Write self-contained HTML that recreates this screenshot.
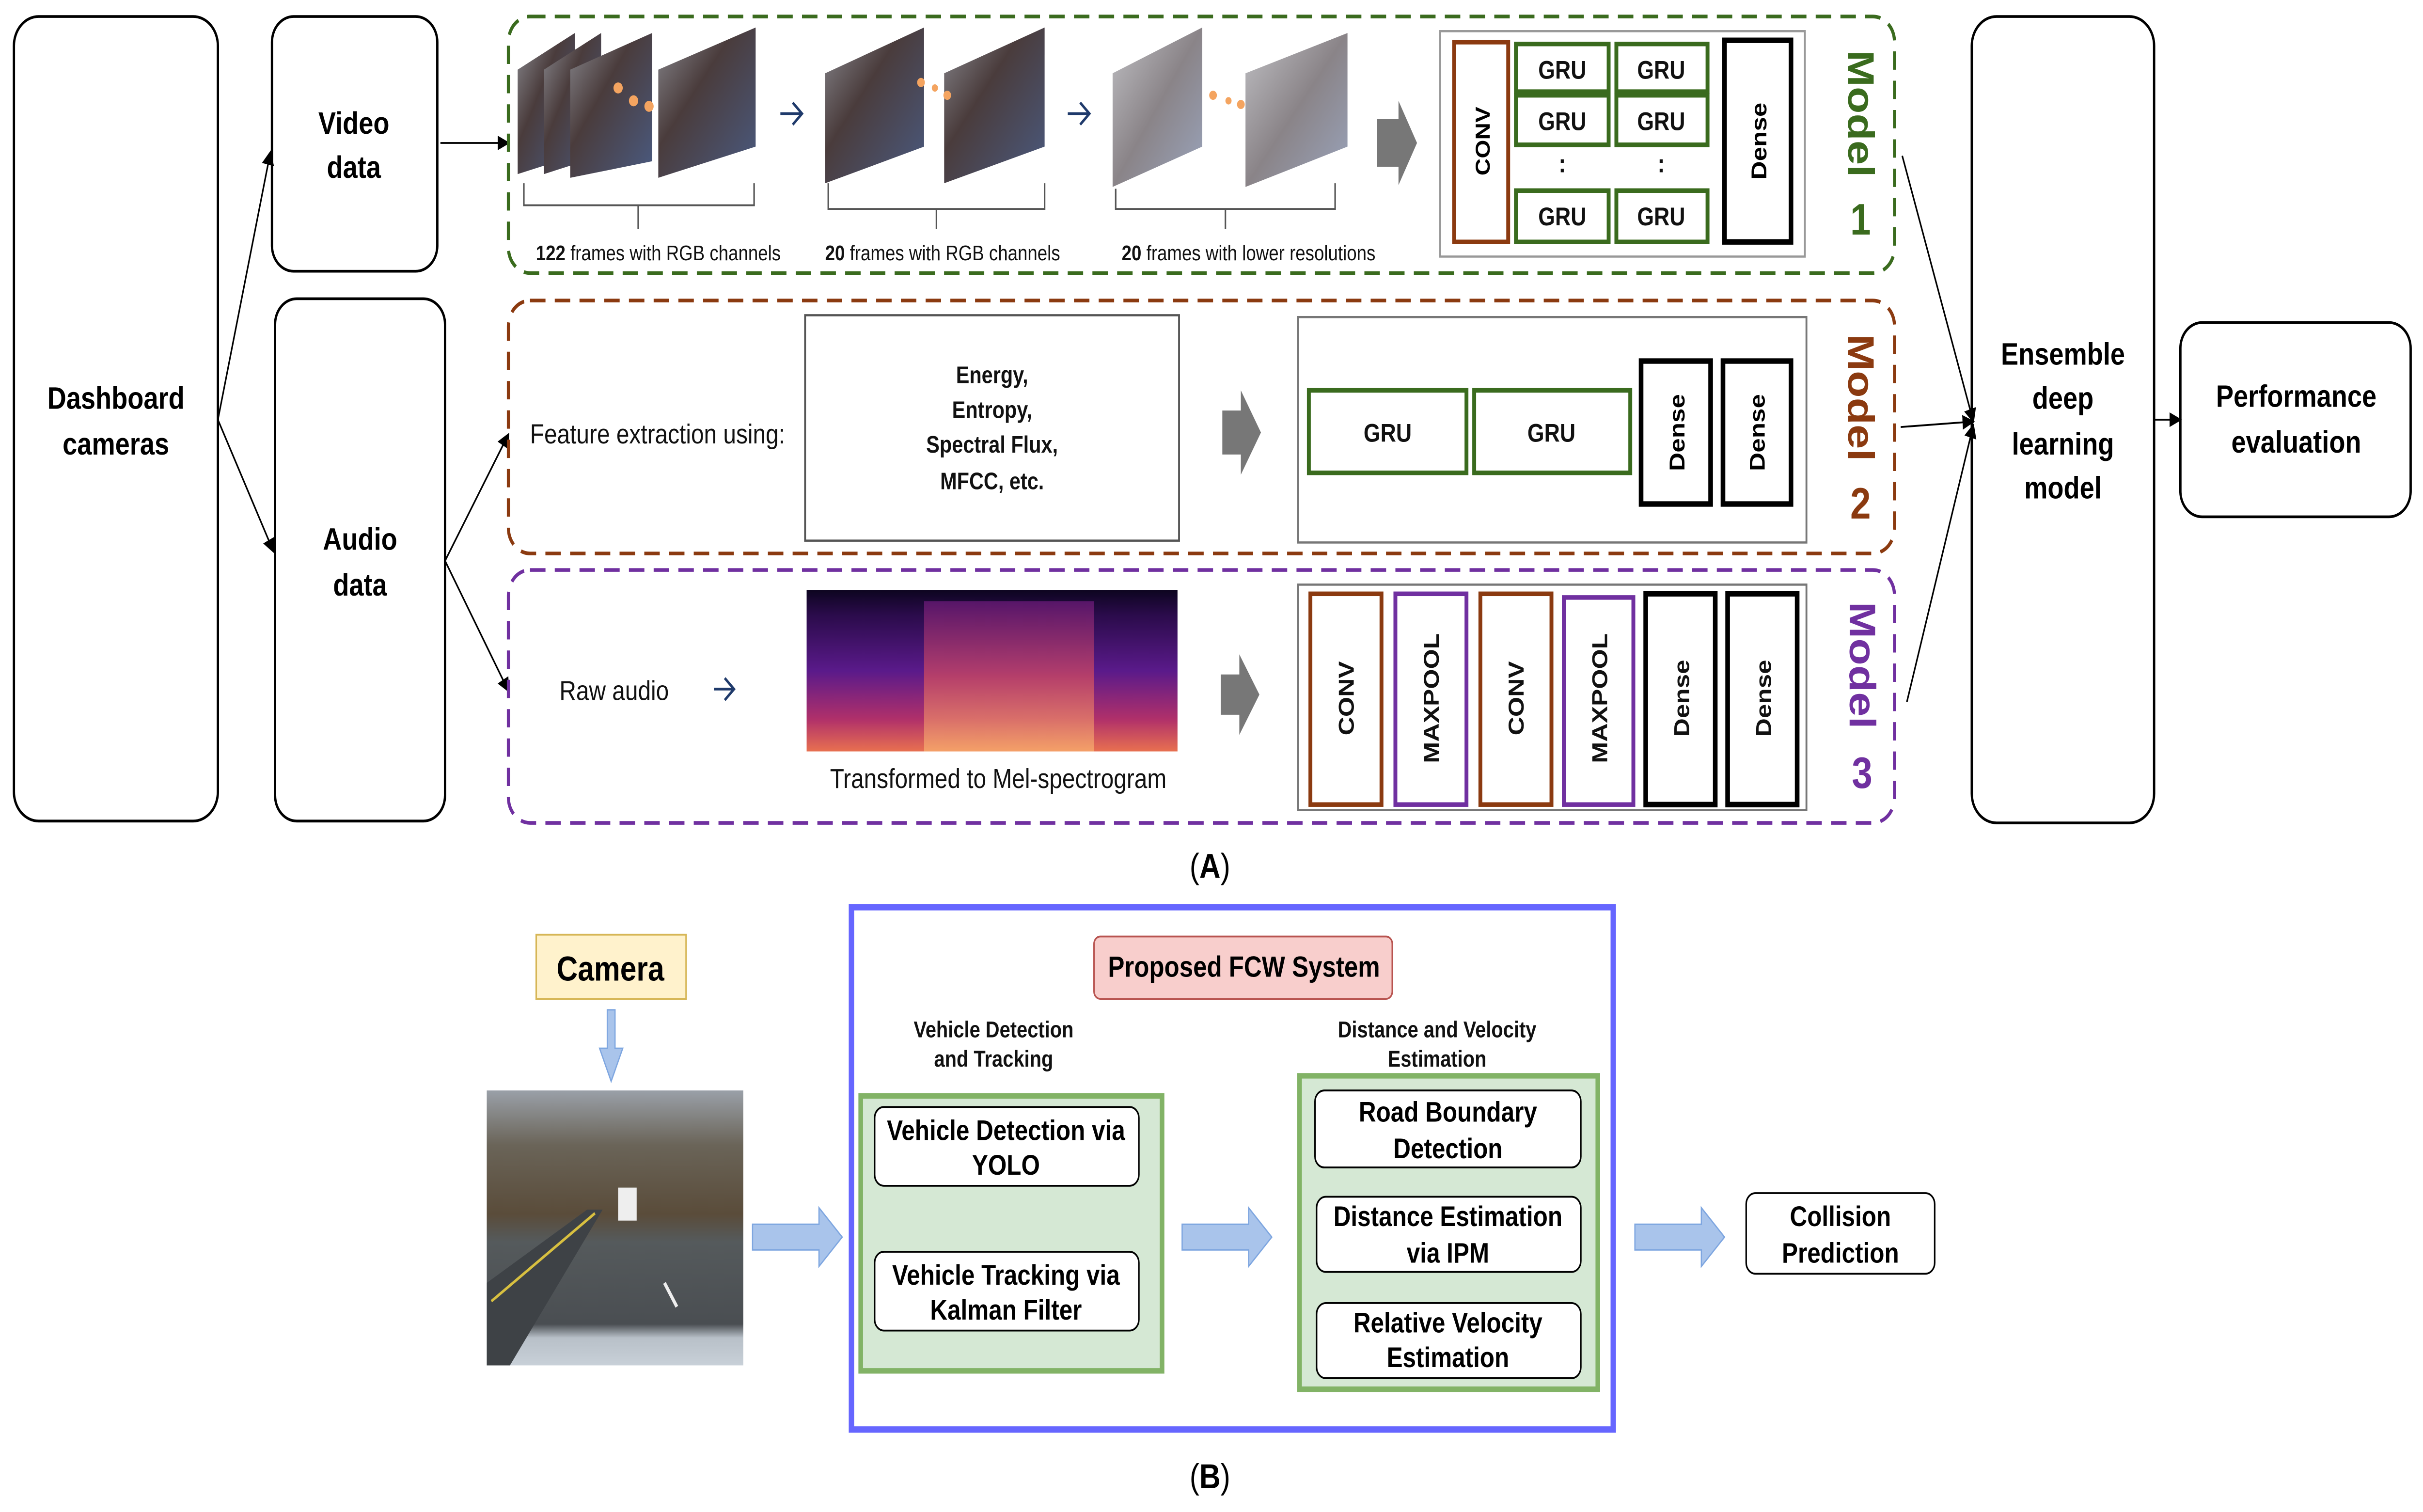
<!DOCTYPE html>
<html><head><meta charset="utf-8"><style>
html,body{margin:0;padding:0;background:#fff;width:100%;height:100%;overflow:hidden}
svg{display:block;position:fixed;left:0;top:0;width:100vw;height:100vh}
text{font-family:"Liberation Sans",sans-serif}
</style></head><body>
<svg viewBox="0 0 1568 825" preserveAspectRatio="none" xmlns="http://www.w3.org/2000/svg">
<defs>
<marker id="ah" markerWidth="8" markerHeight="8" refX="7" refY="4" orient="auto" markerUnits="userSpaceOnUse"><path d="M0,0 L8,4 L0,8 Z" fill="#000"/></marker>
<linearGradient id="spec" x1="0" y1="0" x2="0" y2="1"><stop offset="0" stop-color="#0d0520"/><stop offset="0.15" stop-color="#2a0b4a"/><stop offset="0.5" stop-color="#5a1a8a"/><stop offset="0.8" stop-color="#b0306a"/><stop offset="1" stop-color="#e87050"/></linearGradient>
<linearGradient id="band" x1="0" y1="0" x2="0" y2="1"><stop offset="0" stop-color="#6a1a7a"/><stop offset="0.5" stop-color="#d04a60"/><stop offset="1" stop-color="#f8b070"/></linearGradient>
<linearGradient id="road" x1="0" y1="0" x2="1" y2="1"><stop offset="0" stop-color="#8a8a90"/><stop offset="0.4" stop-color="#4a3c3c"/><stop offset="1" stop-color="#4a5a80"/></linearGradient>
<linearGradient id="road2" x1="0" y1="0" x2="1" y2="1"><stop offset="0" stop-color="#c0c0c4"/><stop offset="0.5" stop-color="#8a8488"/><stop offset="1" stop-color="#9aa4bc"/></linearGradient>
<linearGradient id="photo" x1="0" y1="0" x2="0" y2="1"><stop offset="0" stop-color="#9aa0a8"/><stop offset="0.2" stop-color="#6a6458"/><stop offset="0.45" stop-color="#5a4c3a"/><stop offset="0.55" stop-color="#555a5c"/><stop offset="0.85" stop-color="#4a4e52"/><stop offset="0.9" stop-color="#b8c0c8"/><stop offset="1" stop-color="#c8d0d8"/></linearGradient>
</defs>

<!-- Part A -->
<g fill="none" stroke="#000" stroke-width="1.5">
<rect x="9" y="9" width="132" height="439" rx="16"/>
<rect x="176" y="9" width="107" height="139" rx="14"/>
<rect x="178" y="163" width="110" height="285" rx="14"/>
<rect x="1276" y="9" width="118" height="440" rx="16"/>
<rect x="1411" y="176" width="149" height="106" rx="14"/>
</g>
<g font-weight="bold" font-size="17" text-anchor="middle" fill="#000">
<text x="75" y="223">Dashboard</text><text x="75" y="248">cameras</text>
<text x="229" y="73">Video</text><text x="229" y="97">data</text>
<text x="233" y="300">Audio</text><text x="233" y="325">data</text>
<text x="1335" y="199">Ensemble</text><text x="1335" y="223">deep</text><text x="1335" y="248">learning</text><text x="1335" y="272">model</text>
<text x="1486" y="222">Performance</text><text x="1486" y="247">evaluation</text>
</g>
<g stroke="#000" stroke-width="1" marker-end="url(#ah)" fill="none">
<line x1="141" y1="229" x2="175" y2="83"/>
<line x1="141" y1="229" x2="177" y2="301"/>
<line x1="285" y1="78" x2="329" y2="78"/>
<line x1="288" y1="306" x2="329" y2="237"/>
<line x1="288" y1="306" x2="329" y2="377"/>
<line x1="1231" y1="85" x2="1277" y2="230"/>
<line x1="1230" y1="233" x2="1277" y2="230"/>
<line x1="1234" y1="383" x2="1277" y2="232"/>
<line x1="1394" y1="229" x2="1411" y2="229"/>
</g>

<rect x="329" y="9" width="897" height="140" rx="14" fill="none" stroke="#3a6b1e" stroke-width="2" stroke-dasharray="10,6"/>
<rect x="329" y="164" width="897" height="138" rx="14" fill="none" stroke="#8b3a10" stroke-width="2" stroke-dasharray="10,6"/>
<rect x="329" y="311" width="897" height="138" rx="14" fill="none" stroke="#7030a0" stroke-width="2" stroke-dasharray="10,6"/>

<g>
<polygon points="335,95 335,38 372,18 372,85" fill="url(#road)"/>
<polygon points="352,95 352,38 389,18 389,85" fill="url(#road)"/>
<polygon points="369,97 369,38 422,18 422,88" fill="url(#road)"/>
<polygon points="426,97 426,38 489,15 489,80" fill="url(#road)"/>
<circle cx="400" cy="48" r="3" fill="#f4a460"/><circle cx="410" cy="55" r="3" fill="#f4a460"/><circle cx="420" cy="58" r="3" fill="#f4a460"/>
<polygon points="534,100 534,40 598,15 598,80" fill="url(#road)"/>
<polygon points="611,100 611,40 676,15 676,80" fill="url(#road)"/>
<circle cx="596" cy="45" r="2.5" fill="#f4a460"/><circle cx="605" cy="48" r="2" fill="#f4a460"/><circle cx="613" cy="52" r="2.5" fill="#f4a460"/>
<polygon points="720,102 720,40 778,15 778,80" fill="url(#road2)"/>
<polygon points="806,102 806,40 872,18 872,80" fill="url(#road2)"/>
<circle cx="785" cy="52" r="2.5" fill="#f4a460"/><circle cx="795" cy="55" r="2" fill="#f4a460"/><circle cx="803" cy="57" r="2.5" fill="#f4a460"/>
</g>
<g fill="none" stroke="#555" stroke-width="1">
<path d="M339,100 V112 H488 V100 M413,112 V125"/>
<path d="M536,100 V114 H676 V100 M606,114 V125"/>
<path d="M722,103 V114 H864 V100 M793,114 V125"/>
</g>
<g font-size="11.5" fill="#111" text-anchor="middle">
<text x="426" y="142"><tspan font-weight="bold">122</tspan> frames with RGB channels</text>
<text x="610" y="142"><tspan font-weight="bold">20</tspan> frames with RGB channels</text>
<text x="808" y="142"><tspan font-weight="bold">20</tspan> frames with lower resolutions</text>
</g>
<g stroke="#1f3a6b" stroke-width="1.5" fill="none">
<path d="M505,62 H518 M513,56 L519,62 L513,68"/>
<path d="M691,62 H704 M699,56 L705,62 L699,68"/>
<path d="M462,376 H475 M469,370 L475,376 L469,382"/>
</g>
<g fill="#777">
<polygon points="891,65 905,65 905,55 917,78 905,101 905,91 891,91"/>
<polygon points="791,224 803,224 803,213 816,236 803,259 803,248 791,248"/>
<polygon points="790,368 802,368 802,357 815,379 802,401 802,390 790,390"/>
</g>

<rect x="932" y="17" width="236" height="123" fill="#fff" stroke="#999" stroke-width="1.2"/>
<rect x="941" y="23" width="35" height="109" fill="none" stroke="#8b3a10" stroke-width="2.5"/>
<g fill="none" stroke="#3a6b1e" stroke-width="2.5">
<rect x="981" y="24" width="60" height="26"/><rect x="1046" y="24" width="59" height="26"/>
<rect x="981" y="52" width="60" height="27"/><rect x="1046" y="52" width="59" height="27"/>
<rect x="981" y="104" width="60" height="28"/><rect x="1046" y="104" width="59" height="28"/>
</g>
<rect x="1116" y="22" width="43" height="110" fill="none" stroke="#000" stroke-width="3"/>
<g font-weight="bold" font-size="14" text-anchor="middle" fill="#111">
<text x="1011" y="43">GRU</text><text x="1075" y="43">GRU</text>
<text x="1011" y="71">GRU</text><text x="1075" y="71">GRU</text>
<text x="1011" y="123">GRU</text><text x="1075" y="123">GRU</text>
<text x="1011" y="94">:</text><text x="1075" y="94">:</text>
</g>
<text transform="translate(964,77) rotate(-90)" font-weight="bold" font-size="13" text-anchor="middle">CONV</text>
<text transform="translate(1143,77) rotate(-90)" font-weight="bold" font-size="14" text-anchor="middle">Dense</text>

<rect x="840" y="173" width="329" height="123" fill="#fff" stroke="#777" stroke-width="1.2"/>
<rect x="847" y="213" width="102" height="45" fill="none" stroke="#3a6b1e" stroke-width="2.5"/>
<rect x="954" y="213" width="101" height="45" fill="none" stroke="#3a6b1e" stroke-width="2.5"/>
<rect x="1062" y="197" width="45" height="78" fill="none" stroke="#000" stroke-width="3"/>
<rect x="1115" y="197" width="44" height="78" fill="none" stroke="#000" stroke-width="3"/>
<g font-weight="bold" font-size="14" text-anchor="middle" fill="#111">
<text x="898" y="241">GRU</text><text x="1004" y="241">GRU</text>
</g>
<text transform="translate(1090,236) rotate(-90)" font-weight="bold" font-size="14" text-anchor="middle">Dense</text>
<text transform="translate(1142,236) rotate(-90)" font-weight="bold" font-size="14" text-anchor="middle">Dense</text>
<rect x="521" y="172" width="242" height="123" fill="#fff" stroke="#555" stroke-width="1.2"/>
<g font-weight="bold" font-size="13" text-anchor="middle" fill="#111">
<text x="642" y="209">Energy,</text><text x="642" y="228">Entropy,</text><text x="642" y="247">Spectral Flux,</text><text x="642" y="267">MFCC, etc.</text>
</g>
<text x="343" y="242" font-size="15" fill="#111">Feature extraction using:</text>

<rect x="840" y="319" width="329" height="123" fill="#fff" stroke="#777" stroke-width="1.2"/>
<rect x="848" y="324" width="46" height="115" fill="none" stroke="#8b3a10" stroke-width="2.5"/>
<rect x="903" y="324" width="46" height="115" fill="none" stroke="#7030a0" stroke-width="2.5"/>
<rect x="958" y="324" width="46" height="115" fill="none" stroke="#8b3a10" stroke-width="2.5"/>
<rect x="1012" y="326" width="45" height="113" fill="none" stroke="#7030a0" stroke-width="2.5"/>
<rect x="1065" y="324" width="45" height="115" fill="none" stroke="#000" stroke-width="3"/>
<rect x="1118" y="324" width="45" height="115" fill="none" stroke="#000" stroke-width="3"/>
<g font-weight="bold" font-size="14" text-anchor="middle" fill="#111">
<text transform="translate(876,381) rotate(-90)">CONV</text>
<text transform="translate(931,381) rotate(-90)">MAXPOOL</text>
<text transform="translate(986,381) rotate(-90)">CONV</text>
<text transform="translate(1040,381) rotate(-90)">MAXPOOL</text>
<text transform="translate(1093,381) rotate(-90)">Dense</text>
<text transform="translate(1146,381) rotate(-90)">Dense</text>
</g>
<rect x="522" y="322" width="240" height="88" fill="url(#spec)"/>
<rect x="598" y="328" width="110" height="82" fill="url(#band)" opacity="0.75"/>
<text x="362" y="382" font-size="15" fill="#111">Raw audio</text>
<text x="646" y="430" font-size="15" fill="#111" text-anchor="middle">Transformed to Mel-spectrogram</text>

<g font-weight="bold" font-size="24">
<text transform="translate(1196,62) rotate(90)" text-anchor="middle" fill="#3a6b1e">Model</text>
<text x="1204" y="128" text-anchor="middle" fill="#3a6b1e">1</text>
<text transform="translate(1196,217) rotate(90)" text-anchor="middle" fill="#8b3a10">Model</text>
<text x="1204" y="283" text-anchor="middle" fill="#8b3a10">2</text>
<text transform="translate(1197,363) rotate(90)" text-anchor="middle" fill="#7030a0">Model</text>
<text x="1205" y="430" text-anchor="middle" fill="#7030a0">3</text>
</g>

<text x="783" y="479" font-family="Liberation Serif" font-size="19" text-anchor="middle">(<tspan font-weight="bold">A</tspan>)</text>
<text x="783" y="812" font-family="Liberation Serif" font-size="19" text-anchor="middle">(<tspan font-weight="bold">B</tspan>)</text>

<rect x="347" y="510" width="97" height="35" fill="#fff2cc" stroke="#d6b656" stroke-width="1"/>
<text x="395" y="535" font-weight="bold" font-size="19" text-anchor="middle">Camera</text>
<polygon points="393,551 398,551 398,572 403,572 395.5,590 388,572 393,572" fill="#a9c4eb" stroke="#7ea6e0" stroke-width="0.8"/>
<rect x="315" y="595" width="166" height="150" fill="url(#photo)"/>
<polygon points="315,700 380,660 390,660 330,745 315,745" fill="#3e4246"/>
<line x1="318" y1="710" x2="385" y2="662" stroke="#d8c040" stroke-width="1.5"/>
<line x1="430" y1="700" x2="438" y2="713" stroke="#eee" stroke-width="2"/>
<rect x="400" y="648" width="12" height="18" fill="#eee"/>

<g fill="#a9c4eb" stroke="#7ea6e0" stroke-width="0.8">
<polygon points="487,668 530,668 530,659 545,675 530,691 530,682 487,682"/>
<polygon points="765,668 808,668 808,659 823,675 808,691 808,682 765,682"/>
<polygon points="1058,668 1101,668 1101,659 1116,675 1101,691 1101,682 1058,682"/>
</g>

<rect x="551" y="495" width="493" height="285" fill="none" stroke="#6666ff" stroke-width="3.5"/>
<rect x="708" y="511" width="193" height="34" rx="4" fill="#f8cecc" stroke="#b85450" stroke-width="1"/>
<text x="805" y="533" font-weight="bold" font-size="16" text-anchor="middle">Proposed FCW System</text>
<g font-weight="bold" font-size="12.5" text-anchor="middle" fill="#111">
<text x="643" y="566">Vehicle Detection</text><text x="643" y="582">and Tracking</text>
<text x="930" y="566">Distance and Velocity</text><text x="930" y="582">Estimation</text>
</g>
<rect x="557" y="598" width="195" height="150" fill="#d5e8d4" stroke="#82b366" stroke-width="3"/>
<rect x="841" y="587" width="193" height="171" fill="#d5e8d4" stroke="#82b366" stroke-width="3"/>
<g fill="#fff" stroke="#000" stroke-width="1">
<rect x="566" y="604" width="171" height="43" rx="6"/>
<rect x="566" y="683" width="171" height="43" rx="6"/>
<rect x="851" y="595" width="172" height="42" rx="6"/>
<rect x="852" y="653" width="171" height="41" rx="6"/>
<rect x="852" y="711" width="171" height="41" rx="6"/>
<rect x="1130" y="651" width="122" height="44" rx="6"/>
</g>
<g font-weight="bold" font-size="15.5" text-anchor="middle" fill="#000">
<text x="651" y="622">Vehicle Detection via</text><text x="651" y="641">YOLO</text>
<text x="651" y="701">Vehicle Tracking via</text><text x="651" y="720">Kalman Filter</text>
<text x="937" y="612">Road Boundary</text><text x="937" y="632">Detection</text>
<text x="937" y="669">Distance Estimation</text><text x="937" y="689">via IPM</text>
<text x="937" y="727">Relative Velocity</text><text x="937" y="746">Estimation</text>
<text x="1191" y="669">Collision</text><text x="1191" y="689">Prediction</text>
</g>
</svg>
</body></html>
